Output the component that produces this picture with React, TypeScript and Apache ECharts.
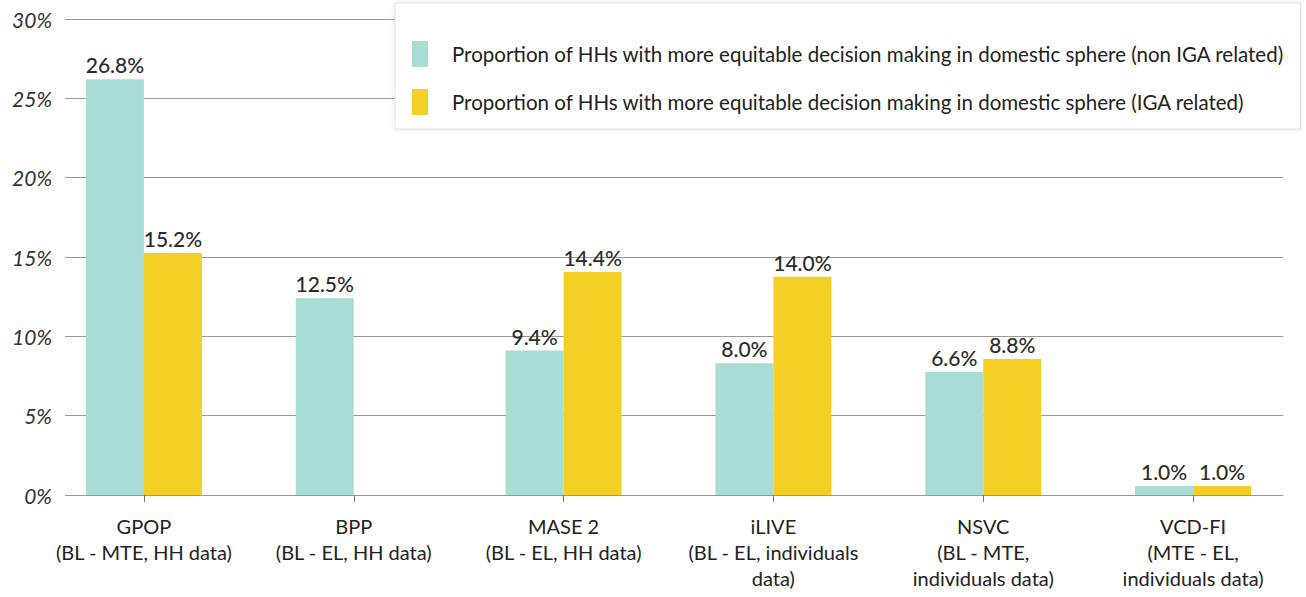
import React, { useEffect, useRef } from "react";
import * as echarts from "echarts";

const categories = [
  "GPOP\n(BL - MTE, HH data)",
  "BPP\n(BL - EL, HH data)",
  "MASE 2\n(BL - EL, HH data)",
  "iLIVE\n(BL - EL, individuals\ndata)",
  "NSVC\n(BL - MTE,\nindividuals data)",
  "VCD-FI\n(MTE - EL,\nindividuals data)",
];
const seriesNames = [
  "Proportion of HHs with more equitable decision making in domestic sphere (non IGA related)",
  "Proportion of HHs with more equitable decision making in domestic sphere (IGA related)",
];
// bar heights as drawn in the picture
const nonIgaValues = [26.2, 12.4, 9.1, 8.3, 7.75, 0.57];
const igaValues = [15.25, null, 14.05, 13.75, 8.57, 0.57];
// data labels as printed in the picture
const nonIgaLabels = ["26.8%", "12.5%", "9.4%", "8.0%", "6.6%", "1.0%"];
const igaLabels = ["15.2%", "", "14.4%", "14.0%", "8.8%", "1.0%"];
const yTicks = { min: 0, max: 30, interval: 5 };

const FONT = "Lato, 'Open Sans', sans-serif";

export default function App() {
  const ref = useRef<HTMLDivElement>(null);
  useEffect(() => {
    document.body.style.margin = "0";
    const chart = echarts.init(ref.current!, null, { renderer: "svg" });
    const labelStyle = {
      show: true,
      position: "top",
      distance: 4,
      fontFamily: FONT,
      fontSize: 21,
      fontWeight: 500,
      color: "#2b2b2b",
    };
    chart.setOption({
      animation: false,
      backgroundColor: "#fff",
      textStyle: { fontFamily: FONT },
      legend: {
        orient: "vertical",
        left: 395,
        top: 3,
        padding: [38, 16, 14, 17],
        itemWidth: 16,
        itemHeight: 26,
        itemGap: 22,
        backgroundColor: "#fff",
        borderColor: "#e2e2e2",
        borderWidth: 1,
        shadowColor: "rgba(0,0,0,0.12)",
        shadowBlur: 4,
        icon: "rect",
        textStyle: {
          fontFamily: FONT,
          fontSize: 20.5,
          color: "#222",
          padding: [0, 0, 0, 19],
        },
        data: seriesNames,
      },
      grid: [
        { left: 65, right: 23, top: 19, bottom: 102 },
        { left: 39, right: 8, top: 19, bottom: 102 },
      ],
      xAxis: [
        { type: "value", gridIndex: 0, show: false },
        {
          type: "category",
          gridIndex: 1,
          data: categories,
          axisLine: { show: false },
          axisTick: {
            show: true,
            alignWithLabel: true,
            length: 7,
            lineStyle: { color: "#777" },
          },
          axisLabel: {
            interval: 0,
            margin: 18,
            fontFamily: FONT,
            fontSize: 20,
            lineHeight: 26,
            color: "#222",
          },
        },
      ],
      yAxis: [
        {
          type: "value",
          gridIndex: 0,
          min: yTicks.min,
          max: yTicks.max,
          interval: yTicks.interval,
          axisLine: { show: false },
          axisTick: { show: false },
          axisLabel: {
            formatter: "{value}%",
            fontFamily: FONT,
            fontSize: 21,
            fontStyle: "italic",
            color: "#333",
            margin: 13,
          },
          splitLine: { lineStyle: { color: "#999", width: 1 } },
        },
        {
          type: "value",
          gridIndex: 1,
          min: yTicks.min,
          max: yTicks.max,
          interval: yTicks.interval,
          show: false,
          splitLine: { show: false },
        },
      ],
      series: [
        {
          name: seriesNames[0],
          type: "bar",
          xAxisIndex: 1,
          yAxisIndex: 1,
          data: nonIgaValues,
          barWidth: 58,
          barGap: "0%",
          itemStyle: { color: "#a8dcd4" },
          label: { ...labelStyle, formatter: (p: any) => nonIgaLabels[p.dataIndex] },
        },
        {
          name: seriesNames[1],
          type: "bar",
          xAxisIndex: 1,
          yAxisIndex: 1,
          data: igaValues,
          barWidth: 58,
          barGap: "0%",
          itemStyle: { color: "#f4cf25" },
          label: { ...labelStyle, formatter: (p: any) => igaLabels[p.dataIndex] },
        },
      ],
    });
    return () => chart.dispose();
  }, []);
  return <div ref={ref} style={{ width: 1306, height: 597 }} />;
}
